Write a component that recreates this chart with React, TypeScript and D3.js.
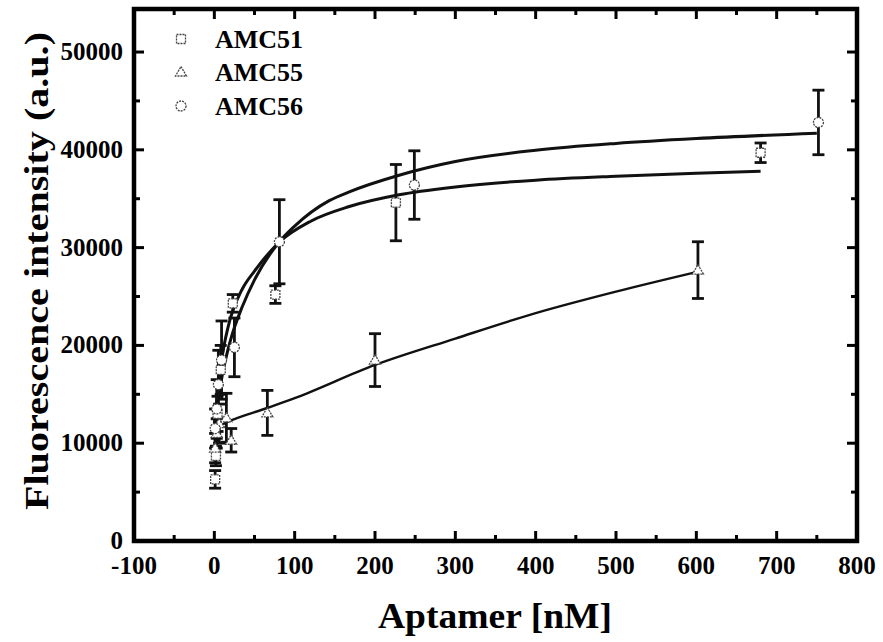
import React from "react";
import * as d3 from "d3";

// ---- data ----
const xTicks = [-100, 0, 100, 200, 300, 400, 500, 600, 700, 800];
const yTicks = [0, 10000, 20000, 30000, 40000, 50000];
const seriesNames = ["AMC51", "AMC55", "AMC56"];

const amc51X = [1, 2, 4, 8, 23, 76, 226, 680];
const amc51Y = [6300, 8700, 13000, 17500, 24300, 25200, 34600, 39700];
const amc51E = [900, 1000, 1800, 2500, 900, 900, 3900, 1000];

const amc55X = [1, 3, 6, 15, 21, 66, 200, 602];
const amc55Y = [9500, 11000, 12000, 12600, 10300, 13100, 18500, 27700];
const amc55E = [1500, 1500, 2000, 2500, 1200, 2300, 2700, 2900];

const amc56X = [1, 3, 5, 9, 25, 81, 249, 752];
const amc56Y = [11500, 13500, 16000, 18500, 19800, 30600, 36400, 42800];
const amc56E = [2000, 3000, 3500, 4000, 3000, 4300, 3500, 3300];

// fitted curves
const fit51X = [0, 2, 5, 10, 20, 35, 50, 80, 120, 168, 230, 300, 400, 500, 600, 680];
const fit51Y = [12000, 13600, 16000, 19000, 22800, 25800, 27600, 30500, 32700, 34200, 35400, 36200, 36900, 37300, 37600, 37800];
const fit55X = [0, 20, 66, 100, 200, 300, 400, 500, 600];
const fit55Y = [11500, 12300, 13600, 14600, 18000, 20700, 23300, 25500, 27500];
const fit56X = [0, 2, 5, 10, 20, 35, 50, 80, 100, 143, 168, 230, 300, 400, 500, 600, 750];
const fit56Y = [11000, 12500, 14500, 17000, 20500, 24000, 26700, 30500, 32200, 34800, 35700, 37400, 38800, 39950, 40650, 41150, 41700];

const W = 883;
const H = 642;
const L = 134, R = 857, T = 9, B = 541;

const x = d3.scaleLinear().domain([-100, 800]).range([L, R]);
const y = d3.scaleLinear().domain([0, 54400]).range([B, T]);

const FONT = "'Liberation Serif', 'Times New Roman', serif";

function Marker({ kind, cx, cy }: { kind: string; cx: number; cy: number }) {
  const common = { fill: "white", stroke: "#444", strokeWidth: 1.3, strokeDasharray: "2,1" };
  if (kind === "square") return <rect x={cx - 4.5} y={cy - 4.5} width={9} height={9} {...common} />;
  if (kind === "triangle") {
    const p = `${cx},${cy - 5.5} ${cx + 5.5},${cy + 4} ${cx - 5.5},${cy + 4}`;
    return <polygon points={p} {...common} />;
  }
  return <circle cx={cx} cy={cy} r={5} {...common} />;
}

export default function App() {
  const line = d3
    .line<[number, number]>()
    .x((d) => x(d[0]))
    .y((d) => y(d[1]))
    .curve(d3.curveMonotoneX);

  const fits = [
    { xs: fit51X, ys: fit51Y, w: 3 },
    { xs: fit56X, ys: fit56Y, w: 3 },
    { xs: fit55X, ys: fit55Y, w: 2.4 },
  ];
  const series = [
    { xs: amc51X, ys: amc51Y, es: amc51E, kind: "square" },
    { xs: amc55X, ys: amc55Y, es: amc55E, kind: "triangle" },
    { xs: amc56X, ys: amc56Y, es: amc56E, kind: "circle" },
  ];
  const kinds = ["square", "triangle", "circle"];

  const xMinor = d3.range(-50, 800, 100);
  const yMinor = d3.range(5000, 54400, 10000);

  return (
    <svg width={W} height={H} style={{ position: "absolute", left: 0, top: 0, background: "white" }}>
      <rect x={0} y={0} width={W} height={H} fill="white" />
      {/* fits */}
      {fits.map((f, i) => (
        <path
          key={i}
          d={line(f.xs.map((v, j) => [v, f.ys[j]] as [number, number])) || ""}
          fill="none"
          stroke="#111"
          strokeWidth={f.w}
        />
      ))}
      {/* error bars */}
      {series.map((s, i) =>
        s.xs.map((v, j) => {
          const cx = x(v);
          const y1 = y(s.ys[j] + s.es[j]);
          const y2 = y(s.ys[j] - s.es[j]);
          return (
            <g key={`e${i}-${j}`} stroke="#111" strokeWidth={2.8}>
              <line x1={cx} x2={cx} y1={y1} y2={y2} />
              <line x1={cx - 6} x2={cx + 6} y1={y1} y2={y1} />
              <line x1={cx - 6} x2={cx + 6} y1={y2} y2={y2} />
            </g>
          );
        })
      )}
      {/* markers */}
      {series.map((s, i) =>
        s.xs.map((v, j) => <Marker key={`m${i}-${j}`} kind={s.kind} cx={x(v)} cy={y(s.ys[j])} />)
      )}
      {/* ticks */}
      <g stroke="#000" strokeWidth={3}>
        {xTicks.map((t) => (
          <g key={`xt${t}`}>
            <line x1={x(t)} x2={x(t)} y1={B} y2={B - 10} />
            <line x1={x(t)} x2={x(t)} y1={T} y2={T + 10} />
          </g>
        ))}
        {xMinor.map((t) => (
          <g key={`xm${t}`}>
            <line x1={x(t)} x2={x(t)} y1={B} y2={B - 6} />
            <line x1={x(t)} x2={x(t)} y1={T} y2={T + 6} />
          </g>
        ))}
        {yTicks.map((t) => (
          <g key={`yt${t}`}>
            <line x1={L} x2={L + 10} y1={y(t)} y2={y(t)} />
            <line x1={R} x2={R - 10} y1={y(t)} y2={y(t)} />
          </g>
        ))}
        {yMinor.map((t) => (
          <g key={`ym${t}`}>
            <line x1={L} x2={L + 6} y1={y(t)} y2={y(t)} />
            <line x1={R} x2={R - 6} y1={y(t)} y2={y(t)} />
          </g>
        ))}
      </g>
      {/* frame */}
      <rect x={L} y={T} width={R - L} height={B - T} fill="none" stroke="#000" strokeWidth={4.5} />
      {/* tick labels */}
      <g fontFamily={FONT} fontWeight="bold" fontSize={25} fill="#000">
        {xTicks.map((t) => (
          <text key={`xl${t}`} x={x(t)} y={574} textAnchor="middle">
            {t}
          </text>
        ))}
        {yTicks.map((t) => (
          <text key={`yl${t}`} x={123} y={y(t) + 8} textAnchor="end">
            {t}
          </text>
        ))}
      </g>
      {/* axis titles */}
      <text
        x={495}
        y={628}
        textAnchor="middle"
        fontFamily={FONT}
        fontWeight="bold"
        fontSize={36}
        textLength={234}
        lengthAdjust="spacingAndGlyphs"
      >
        Aptamer [nM]
      </text>
      <text
        transform="translate(48,271) rotate(-90)"
        textAnchor="middle"
        fontFamily={FONT}
        fontWeight="bold"
        fontSize={33}
        textLength={478}
        lengthAdjust="spacingAndGlyphs"
      >
        Fluorescence intensity (a.u.)
      </text>
      {/* legend */}
      {seriesNames.map((n, i) => {
        const cy = [39, 72, 106][i];
        return (
          <g key={n}>
            <Marker kind={kinds[i]} cx={181} cy={cy} />
            <text x={215} y={cy + 9} fontFamily={FONT} fontWeight="bold" fontSize={26}>
              {n}
            </text>
          </g>
        );
      })}
    </svg>
  );
}
